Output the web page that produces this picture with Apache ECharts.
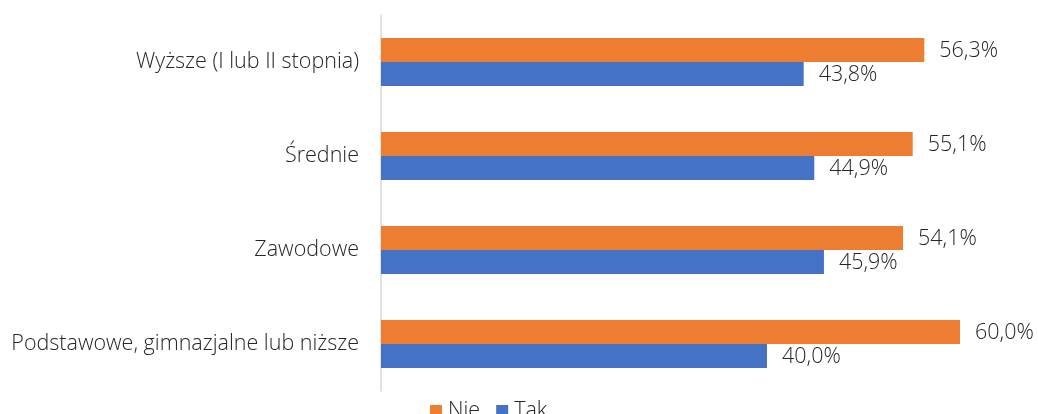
<!DOCTYPE html>
<html><head><meta charset="utf-8">
<script src="https://cdn.jsdelivr.net/npm/echarts@6/dist/echarts.min.js"></script>
<style>html,body{margin:0;padding:0;background:#fff}#c{width:1038px;height:414px}</style>
</head><body><div id="c"></div>
<script>
const categories = ["Podstawowe, gimnazjalne lub niższe", "Zawodowe", "Średnie", "Wyższe (I lub II stopnia)"];
const nieValues = [60.0, 54.1, 55.1, 56.3];
const takValues = [40.0, 45.9, 44.9, 43.8];
const seriesNames = ["Nie", "Tak"];

const font = "'Open Sans', sans-serif";
const chart = echarts.init(document.getElementById('c'));
const fmt = p => p.value.toFixed(1).replace('.', ',') + '%';
const lbl = {show: true, position: 'right', distance: 15, offset: [0, 1], formatter: fmt, color: '#262626', fontSize: 21.5, fontWeight: 300, fontFamily: font};
chart.setOption({
  animation: false,
  grid: {left: 381, right: 78, top: 15, bottom: 23},
  xAxis: {type: 'value', min: 0, max: 60, show: false},
  yAxis: {
    type: 'category', data: categories,
    axisLine: {show: true, lineStyle: {color: '#d9d9d9', width: 1.5}},
    axisTick: {show: false},
    axisLabel: {color: '#262626', fontSize: 21.5, fontWeight: 300, fontFamily: font, margin: 22}
  },
  legend: {
    data: seriesNames, left: 425, top: 395, itemWidth: 12, itemHeight: 12, itemGap: 16,
    icon: 'rect',
    textStyle: {color: '#262626', fontSize: 21.5, fontWeight: 300, fontFamily: font, padding: [0,0,0,1]}
  },
  series: [
    {name: 'Nie', type: 'bar', data: nieValues, barWidth: 24, barGap: '0%',
     itemStyle: {color: '#ED7D31'}, z: 3, label: lbl},
    {name: 'Tak', type: 'bar', data: takValues, barWidth: 24, barGap: '0%',
     itemStyle: {color: '#4472C4'}, label: lbl}
  ]
});
</script></body></html>
